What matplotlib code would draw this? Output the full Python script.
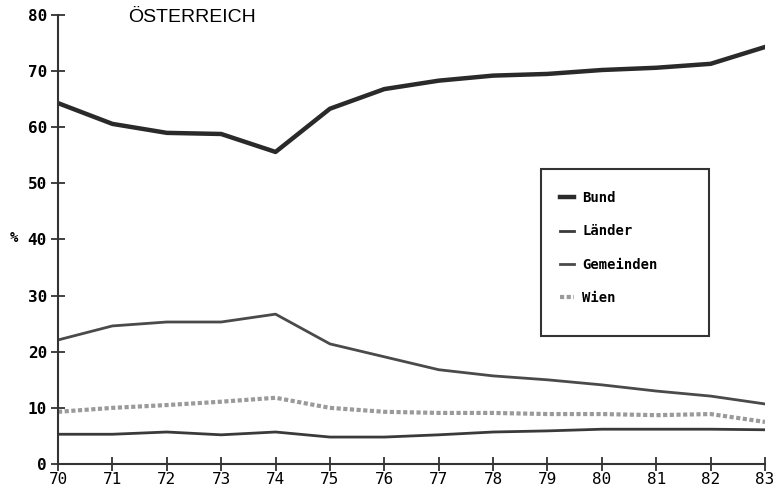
import matplotlib.pyplot as plt
from matplotlib.patches import Rectangle

years = list(range(70, 84))
bund = [64.3, 60.6, 59.0, 58.8, 55.6, 63.3, 66.8, 68.3, 69.2, 69.5, 70.2, 70.6, 71.3, 74.3]
gemeinden = [22.1, 24.6, 25.3, 25.3, 26.7, 21.4, 19.1, 16.8, 15.7, 15.0, 14.1, 13.0, 12.1, 10.7]
laender = [5.3, 5.3, 5.7, 5.2, 5.7, 4.8, 4.8, 5.2, 5.7, 5.9, 6.2, 6.2, 6.2, 6.1]
wien = [9.3, 10.0, 10.5, 11.1, 11.8, 10.0, 9.3, 9.1, 9.1, 8.9, 8.9, 8.7, 8.9, 7.5]
y_ticks = [0, 10, 20, 30, 40, 50, 60, 70, 80]

mono = {"family": "DejaVu Sans Mono", "weight": "bold"}

fig = plt.figure(figsize=(7.78, 4.93), dpi=100)
ax = fig.add_axes([58 / 778, 29 / 493, 707 / 778, 449 / 493])

ax.plot(years, bund, color="#2a2a2a", lw=3.2, label="Bund")
ax.plot(years, laender, color="#3a3a3a", lw=2.0, label="Länder")
ax.plot(years, gemeinden, color="#4a4a4a", lw=2.0, label="Gemeinden")
ax.plot(years, wien, color="#9a9a9a", lw=3.0, ls=(0, (1, 0.6)), label="Wien")

ax.set_xlim(70, 83)
ax.set_ylim(0, 80)
ax.set_xticks(years)
ax.set_yticks(y_ticks)
ax.set_xticklabels([str(y) for y in years], fontdict={"family": "DejaVu Sans Mono", "size": 11.5})
ax.set_yticklabels([str(v) for v in y_ticks], fontdict=dict(mono, size=11.5))
ax.tick_params(direction="inout", length=10, width=1.3, color="#333333")
ax.tick_params(axis="x", pad=1)
ax.tick_params(axis="y", pad=3)

for s in ["top", "right"]:
    ax.spines[s].set_visible(False)
for s in ["left", "bottom"]:
    ax.spines[s].set_linewidth(1.5)
    ax.spines[s].set_color("#333333")

fig.text(10 / 778, 1 - 238 / 493, "%", fontdict=dict(mono, size=10), va="center")
fig.text(128 / 778, 1 - 17 / 493, "ÖSTERREICH", family="Liberation Sans", size=14, va="center")

fig.patches.append(Rectangle((541 / 778, 1 - 336 / 493), 168 / 778, 167 / 493,
                             transform=fig.transFigure, fill=False, ec="#333333", lw=1.5))
ax.legend(loc="upper left", bbox_to_anchor=(553 / 778, 1 - 184 / 493),
          bbox_transform=fig.transFigure, frameon=False, prop=dict(mono, size=10),
          handlelength=1.0, handletextpad=0.6, labelspacing=1.4, borderpad=0)

fig.savefig("out.png", dpi=100)
